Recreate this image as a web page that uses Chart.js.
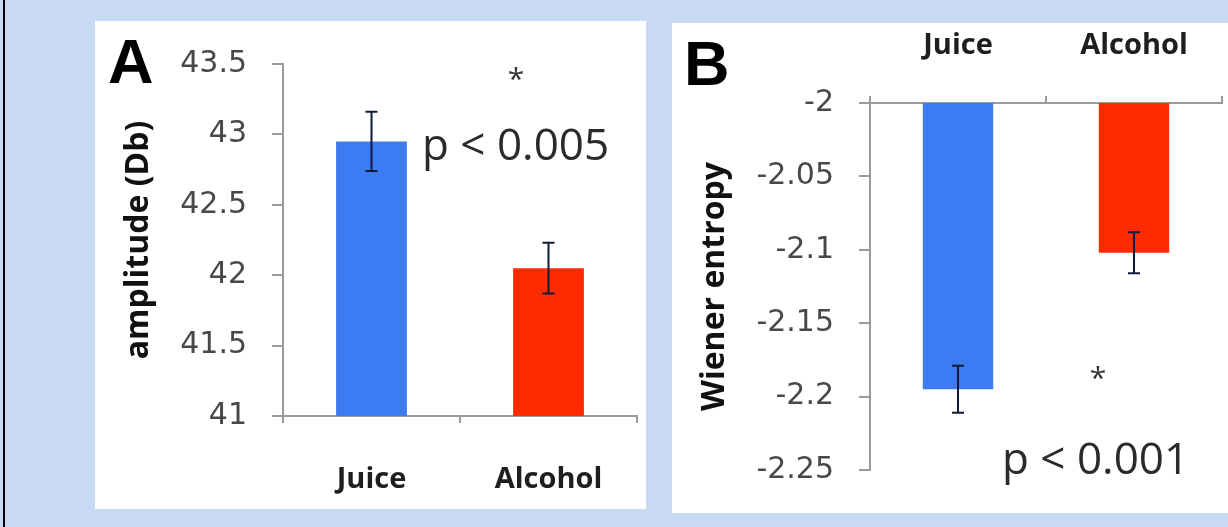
<!DOCTYPE html>
<html>
<head>
<meta charset="utf-8">
<script src="https://cdn.jsdelivr.net/npm/chart.js@4.4.0/dist/chart.umd.min.js"></script>
<style>
  html, body { margin: 0; padding: 0; }
  body { width: 1228px; height: 527px; background: #c9daf5; position: relative; overflow: hidden; }
  #edge { position: absolute; left: 3px; top: 0; width: 2px; height: 527px; background: #000; }
  .panel { position: absolute; background: #fff; }
  #pa { left: 95px; top: 21px; width: 551px; height: 488px; }
  #pb { left: 672px; top: 23px; width: 556px; height: 490px; }
  canvas { display: block; }
</style>
</head>
<body>
<div id="edge"></div>
<div class="panel" id="pa"><canvas id="ca" width="551" height="488"></canvas></div>
<div class="panel" id="pb"><canvas id="cb" width="556" height="490"></canvas></div>
<script>
// Groups and measured values
const groups = ['Juice', 'Alcohol'];
const amplitudeMean = [42.95, 42.05];
const amplitudeErr = [0.21, 0.18];
const amplitudeTicks = [41, 41.5, 42, 42.5, 43, 43.5];
const entropyMean = [-2.195, -2.102];
const entropyErr = [0.016, 0.014];
const entropyTicks = [-2.25, -2.2, -2.15, -2.1, -2.05, -2];
const barColors = ['#3d7bf2', '#fe2a00'];

// Error bars drawn on top of each bar from the mean ± error
const errorBars = {
  id: 'errorBars',
  afterDatasetsDraw(chart, args, opts) {
    const meta = chart.getDatasetMeta(0);
    const ys = chart.scales.y;
    const ctx = chart.ctx;
    const values = chart.data.datasets[0].data;
    ctx.save();
    ctx.strokeStyle = opts.color;
    ctx.lineWidth = opts.width;
    meta.data.forEach((bar, i) => {
      const y1 = ys.getPixelForValue(values[i] + opts.errors[i]);
      const y2 = ys.getPixelForValue(values[i] - opts.errors[i]);
      ctx.beginPath();
      ctx.moveTo(bar.x, y1); ctx.lineTo(bar.x, y2);
      ctx.moveTo(bar.x - opts.cap, y1); ctx.lineTo(bar.x + opts.cap, y1);
      ctx.moveTo(bar.x - opts.cap, y2); ctx.lineTo(bar.x + opts.cap, y2);
      ctx.stroke();
    });
    ctx.restore();
  }
};

// Panel letters and significance notes
const notes = {
  id: 'notes',
  afterDraw(chart, args, opts) {
    const ctx = chart.ctx;
    opts.items.forEach(n => {
      ctx.save();
      ctx.font = n.font;
      ctx.fillStyle = n.color;
      ctx.textAlign = n.align || 'left';
      ctx.textBaseline = 'alphabetic';
      ctx.fillText(n.text, n.x, n.y);
      ctx.restore();
    });
  }
};

const axisGray = '#9a9a9a';

function barPanel(canvasId, values, errors, tickValues, yTitle, cfg) {
  return new Chart(document.getElementById(canvasId), {
    type: 'bar',
    data: {
      labels: groups,
      datasets: [{
        data: values,
        backgroundColor: barColors,
        borderWidth: 0,
        barPercentage: 0.4,
        categoryPercentage: 1
      }]
    },
    plugins: [errorBars, notes],
    options: {
      responsive: false,
      animation: false,
      layout: { padding: cfg.padding },
      plugins: {
        legend: { display: false },
        tooltip: { enabled: false },
        errorBars: { errors: errors, color: '#101a38', width: 2, cap: 6 },
        notes: { items: cfg.notes }
      },
      scales: {
        x: {
          type: 'category',
          position: cfg.xPosition,
          afterFit: s => { s.height = cfg.xHeight; },
          grid: { drawOnChartArea: false, offset: true, tickLength: 7, color: axisGray, lineWidth: 2 },
          border: { color: axisGray, width: 2 },
          ticks: {
            font: { family: 'Open Sans', weight: 'bold', size: 29 },
            color: '#1e1e1e',
            padding: cfg.xPad
          }
        },
        y: {
          min: tickValues[0],
          max: tickValues[tickValues.length - 1],
          afterFit: s => { s.width = cfg.yWidth; },
          afterBuildTicks: s => { s.ticks = tickValues.map(v => ({ value: v })); },
          grid: { drawOnChartArea: false, tickLength: 11, color: axisGray, lineWidth: 2 },
          border: { color: axisGray, width: 2 },
          ticks: {
            font: { family: 'DejaVu Sans', size: 30 },
            color: '#484848',
            padding: cfg.yPad,
            callback: v => String(v)
          },
          title: {
            display: true,
            text: yTitle,
            font: { family: 'Open Sans', weight: 'bold', size: 32 },
            color: '#111',
            padding: { top: cfg.titlePad, bottom: 0 }
          }
        }
      }
    }
  });
}

barPanel('ca', amplitudeMean, amplitudeErr, amplitudeTicks, 'amplitude (Db)', {
  padding: { left: 0, top: 29, right: 9, bottom: 0 },
  xPosition: 'bottom',
  xHeight: 93,
  xPad: 39,
  yWidth: 188,
  yPad: 25,
  titlePad: 25,
  notes: [
    { text: 'A', x: 13, y: 62, font: 'bold 63px "Liberation Sans"', color: '#000' },
    { text: '*', x: 421, y: 68, align: 'center', font: '30px "Open Sans"', color: '#333' },
    { text: 'p < 0.005', x: 327, y: 139, font: '44px "Open Sans"', color: '#2a2a2a' }
  ]
});

barPanel('cb', entropyMean, entropyErr, entropyTicks, 'Wiener entropy', {
  padding: { left: 0, top: 0, right: 6, bottom: 33 },
  xPosition: 'top',
  xHeight: 80,
  xPad: 33,
  yWidth: 198,
  yPad: 25,
  titlePad: 24,
  notes: [
    { text: 'B', x: 12, y: 62, font: 'bold 63px "Liberation Sans"', color: '#000' },
    { text: '*', x: 426, y: 365, align: 'center', font: '30px "Open Sans"', color: '#333' },
    { text: 'p < 0.001', x: 330, y: 451, font: '44px "Open Sans"', color: '#2a2a2a' }
  ]
});
</script>
</body>
</html>
